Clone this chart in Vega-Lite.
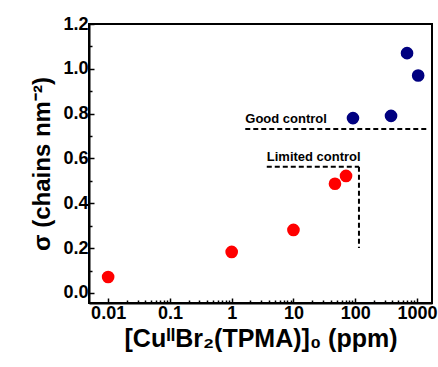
{
  "$schema": "https://vega.github.io/schema/vega-lite/v6.json",
  "autosize": "none",
  "width": 343,
  "height": 279,
  "padding": {"left": 89, "top": 24, "right": 6, "bottom": 64},
  "background": "white",
  "config": {
    "font": "Liberation Sans",
    "view": {"stroke": "black", "strokeWidth": 2},
    "axis": {
      "domainColor": "black", "domainWidth": 2, "tickColor": "black", "tickWidth": 1.5,
      "labelFont": "Liberation Sans", "labelFontWeight": "bold", "labelFontSize": 18, "labelColor": "black",
      "titleFont": "Liberation Sans", "titleFontWeight": "bold", "titleFontSize": 24, "titleColor": "black",
      "grid": false
    }
  },
  "datasets": {
    "points": [
      {"c": 0.01, "sigma": 0.071, "group": "limited"},
      {"c": 1, "sigma": 0.183, "group": "limited"},
      {"c": 10, "sigma": 0.281, "group": "limited"},
      {"c": 47, "sigma": 0.487, "group": "limited"},
      {"c": 71, "sigma": 0.522, "group": "limited"},
      {"c": 92, "sigma": 0.78, "group": "good"},
      {"c": 380, "sigma": 0.79, "group": "good"},
      {"c": 690, "sigma": 1.07, "group": "good"},
      {"c": 1045, "sigma": 0.97, "group": "good"}
    ],
    "lines": [
      {"x": 1.66, "x2": 1510, "y": 0.732, "y2": 0.732},
      {"x": 3.7, "x2": 115, "y": 0.5625, "y2": 0.5625},
      {"x": 115, "x2": 115, "y": 0.5625, "y2": 0.2}
    ],
    "labels": [
      {"x": 1.66, "y": 0.76, "text": "Good control"},
      {"x": 3.7, "y": 0.589, "text": "Limited control"}
    ]
  },
  "resolve": {"axis": {"x": "independent", "y": "independent"}},
  "layer": [
    {
      "data": {"name": "lines"},
      "mark": {"type": "rule", "strokeDash": [5, 3], "strokeWidth": 2, "color": "black"},
      "encoding": {
        "x": {"field": "x", "type": "quantitative", "scale": {"type": "log", "domain": [0.0049, 1750], "nice": false},
          "axis": {"orient": "bottom", "title": null, "labels": false, "domain": false, "tickSize": -3,
            "values": [0.02, 0.03, 0.04, 0.05, 0.06, 0.07, 0.08, 0.09, 0.2, 0.3, 0.4, 0.5, 0.6, 0.7, 0.8, 0.9, 2, 3, 4, 5, 6, 7, 8, 9, 20, 30, 40, 50, 60, 70, 80, 90, 200, 300, 400, 500, 600, 700, 800, 900]}},
        "x2": {"field": "x2"},
        "y": {"field": "y", "type": "quantitative", "scale": {"domain": [-0.045, 1.2], "nice": false, "zero": false},
          "axis": {"orient": "left", "title": null, "labels": false, "domain": false, "tickSize": -3,
            "values": [0.1, 0.3, 0.5, 0.7, 0.9, 1.1]}},
        "y2": {"field": "y2"}
      }
    },
    {
      "data": {"name": "labels"},
      "mark": {"type": "text", "align": "left", "baseline": "alphabetic", "font": "Liberation Sans", "fontWeight": "bold", "fontSize": 13, "color": "black"},
      "encoding": {
        "x": {"field": "x", "type": "quantitative", "axis": null},
        "y": {"field": "y", "type": "quantitative", "axis": null},
        "text": {"field": "text"}
      }
    },
    {
      "data": {"name": "points"},
      "mark": {"type": "circle", "size": 160, "opacity": 1},
      "encoding": {
        "x": {
          "field": "c", "type": "quantitative",
          "title": "[CuᴵᴵBr₂(TPMA)]₀ (ppm)",
          "axis": {
            "orient": "bottom",
            "values": [0.01, 0.1, 1, 10, 100, 1000],
            "labelExpr": "datum.value < 1 ? format(datum.value, '~g') : format(datum.value, 'd')",
            "tickSize": -5,
            "labelPadding": 6,
            "labelFlush": false,
            "labelOverlap": false,
            "titlePadding": 4,
            "titleFontSize": 25
          }
        },
        "y": {
          "field": "sigma", "type": "quantitative",
          "title": "σ (chains nm⁻²)",
          "axis": {
            "orient": "left",
            "values": [0, 0.2, 0.4, 0.6, 0.8, 1.0, 1.2],
            "format": ".1f",
            "tickSize": -5,
            "labelPadding": 6,
            "labelFlush": false,
            "labelOverlap": false,
            "titlePadding": 8
          }
        },
        "color": {"field": "group", "type": "nominal", "scale": {"domain": ["limited", "good"], "range": ["#FF0000", "#000080"]}, "legend": null}
      }
    }
  ]
}
